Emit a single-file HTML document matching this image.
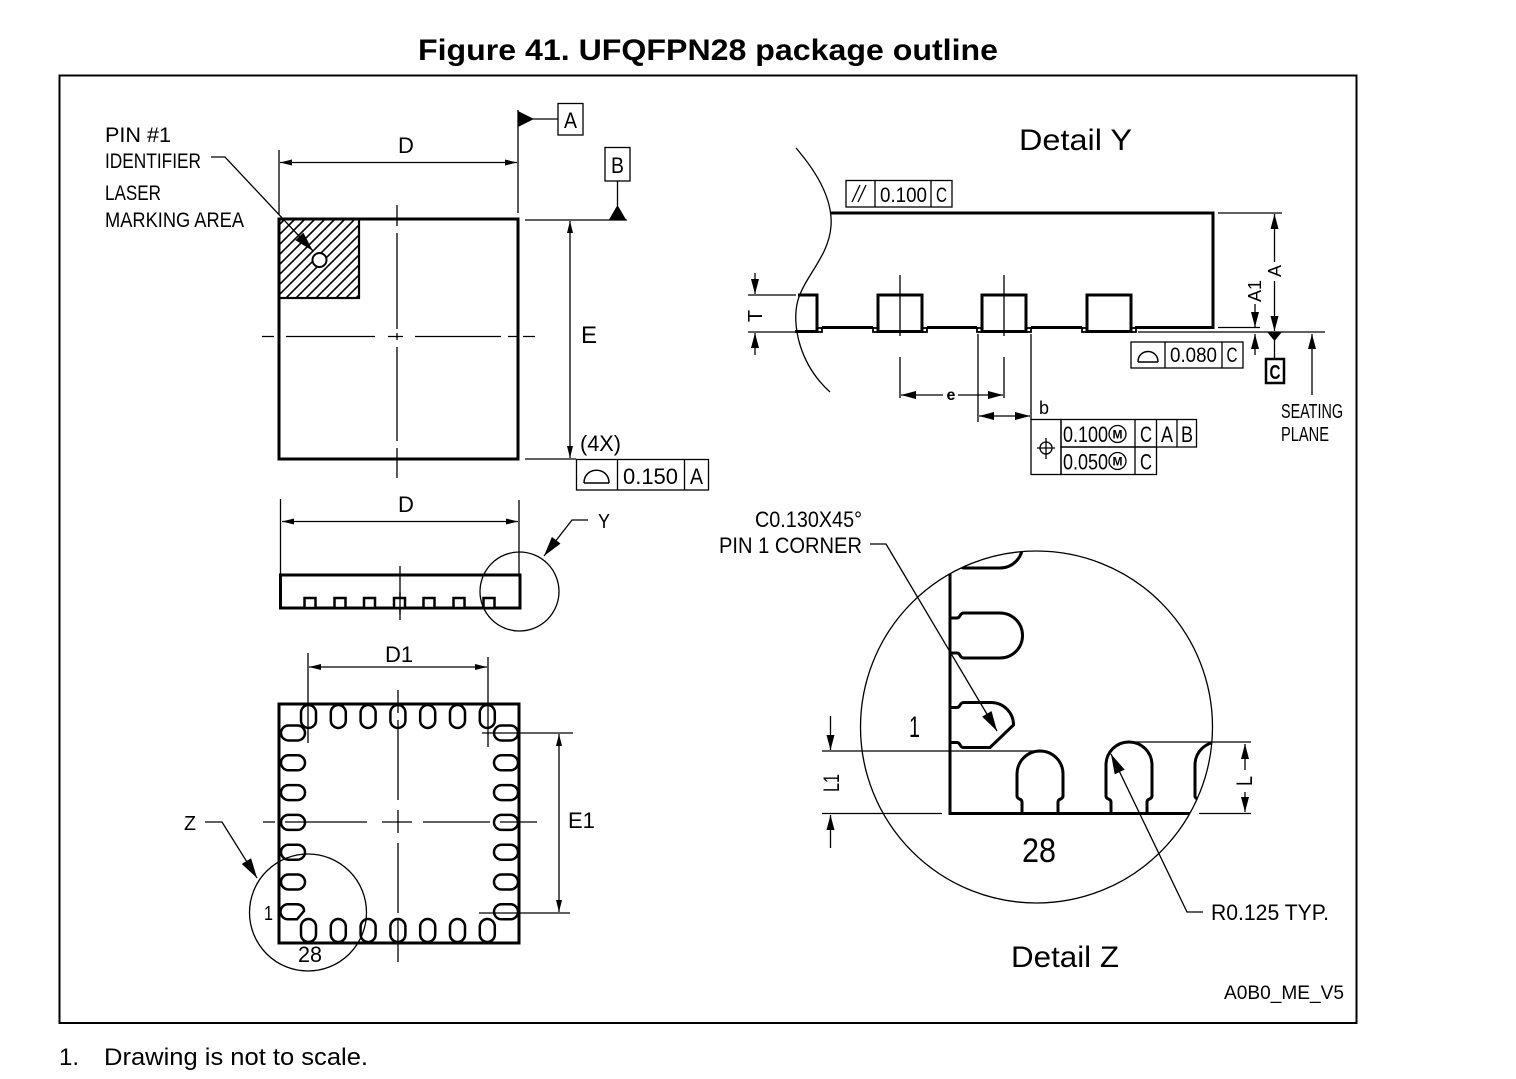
<!DOCTYPE html>
<html><head><meta charset="utf-8"><style>
html,body{margin:0;padding:0;background:#fff;}
svg{display:block;}
text{font-family:"Liberation Sans",Arial,sans-serif;fill:#000;}
</style></head><body>
<svg width="1516" height="1079" viewBox="0 0 1516 1079" xmlns="http://www.w3.org/2000/svg">
<defs>
 <marker id="a" viewBox="0 0 12 6" refX="12" refY="3" markerWidth="12" markerHeight="6" markerUnits="userSpaceOnUse" orient="auto-start-reverse"><path d="M0,0L12,3L0,6z"/></marker>
 <marker id="b" viewBox="0 0 15 8" refX="15" refY="4" markerWidth="15" markerHeight="8" markerUnits="userSpaceOnUse" orient="auto-start-reverse"><path d="M0,0L15,4L0,8z"/></marker>
 <marker id="c" viewBox="0 0 20 11" refX="20" refY="5.5" markerWidth="20" markerHeight="11" markerUnits="userSpaceOnUse" orient="auto"><path d="M0,0L20,5.5L0,11z"/></marker>
 <clipPath id="cz"><circle cx="1036.5" cy="727" r="176"/></clipPath>
 <clipPath id="ch"><rect x="279" y="219" width="80" height="79"/></clipPath>
</defs>
<rect width="1516" height="1079" fill="#fff"/>

<!-- Title -->
<text x="418" y="60" font-size="30" font-weight="bold" textLength="580" lengthAdjust="spacingAndGlyphs">Figure 41. UFQFPN28 package outline</text>
<rect x="59.5" y="75.5" width="1297" height="947.5" fill="none" stroke="#000" stroke-width="2"/>

<!-- Footer -->
<text x="59" y="1065" font-size="24">1.</text>
<text x="104" y="1065" font-size="24" textLength="264" lengthAdjust="spacingAndGlyphs">Drawing is not to scale.</text>

<g fill="none" stroke="#000">
<!-- ================= TOP VIEW ================= -->
<rect x="279" y="219" width="239" height="240" stroke-width="3"/>
<path clip-path="url(#ch)" stroke-width="1.6" d="M205,299L285,219M215,299L295,219M225,299L305,219M235,299L315,219M245,299L325,219M255,299L335,219M265,299L345,219M275,299L355,219M285,299L365,219M295,299L375,219M305,299L385,219M315,299L395,219M325,299L405,219M335,299L415,219M345,299L425,219M355,299L435,219"/>
<rect x="279" y="219" width="80" height="79" stroke-width="2.2"/>
<circle cx="319.5" cy="260" r="7" fill="#fff" stroke-width="2"/>
<polyline points="211,157 225,157 313,251" stroke-width="1.3" marker-end="url(#c)"/>
<g stroke-width="1.3">
 <path d="M397,205V226M397,233V329M397,333V340M397,347V441M397,448V478"/>
 <path d="M262,336.5H274M286,336.5H375M388,336.5H403M415,336.5H501M508,336.5H517M523,336.5H535"/>
 <!-- D dim -->
 <path d="M279,150V214"/>
 <path d="M518,110V213"/>
 <line x1="280" y1="162.5" x2="517" y2="162.5" marker-start="url(#a)" marker-end="url(#a)"/>
 <!-- datum A -->
 <path d="M533,119H558"/>
 <rect x="558" y="103.5" width="25" height="31.5"/>
 <!-- datum B -->
 <rect x="605" y="147.5" width="25" height="33.5"/>
 <path d="M617.5,181V206"/>
 <path d="M525,220H627"/>
 <!-- E dim -->
 <line x1="570" y1="221" x2="570" y2="458" marker-start="url(#a)" marker-end="url(#a)"/>
 <path d="M525,459H576"/>
 <!-- flatness frame -->
 <rect x="576.5" y="459.5" width="132" height="30.5"/>
 <path d="M617.5,459.5V490M684.5,459.5V490"/>
 <path d="M584,483H609M584,483C584,466 609,466 609,483" stroke-width="1.5"/>
</g>
</g>
<polygon points="518,111 518,127 534,119"/>
<polygon points="608.5,220.5 626.5,220.5 617.5,205"/>
<text x="105" y="142" font-size="21" textLength="66" lengthAdjust="spacingAndGlyphs">PIN  #1</text>
<text x="105" y="168" font-size="21" textLength="96" lengthAdjust="spacingAndGlyphs">IDENTIFIER</text>
<text x="105" y="200" font-size="21" textLength="56" lengthAdjust="spacingAndGlyphs">LASER</text>
<text x="105" y="227" font-size="21" textLength="139" lengthAdjust="spacingAndGlyphs">MARKING  AREA</text>
<text x="398" y="153" font-size="22">D</text>
<text x="570.5" y="128" font-size="22" text-anchor="middle" textLength="13" lengthAdjust="spacingAndGlyphs">A</text>
<text x="617.5" y="173" font-size="22" text-anchor="middle" textLength="13" lengthAdjust="spacingAndGlyphs">B</text>
<text x="581" y="343" font-size="24">E</text>
<text x="580" y="451" font-size="22" textLength="41" lengthAdjust="spacingAndGlyphs">(4X)</text>
<text x="623" y="484" font-size="22" textLength="55" lengthAdjust="spacingAndGlyphs">0.150</text>
<text x="696.5" y="484" font-size="22" text-anchor="middle" textLength="13" lengthAdjust="spacingAndGlyphs">A</text>

<!-- ================= SIDE VIEW ================= -->
<g fill="none" stroke="#000">
 <g stroke-width="1.3">
  <path d="M280.5,499V575M519,500V575"/>
  <line x1="282" y1="521.5" x2="518" y2="521.5" marker-start="url(#a)" marker-end="url(#a)"/>
  <path d="M400,566V620"/>
  <circle cx="519.5" cy="591.5" r="39.5"/>
  <polyline points="588,520 572,520 544,556" marker-end="url(#c)"/>
 </g>
 <rect x="280.5" y="575" width="239.5" height="33" stroke-width="3"/>
 <g stroke-width="2.5" fill="#fff">
  <rect x="304.5" y="598" width="11" height="10"/>
  <rect x="334.5" y="598" width="11" height="10"/>
  <rect x="364" y="598" width="11" height="10"/>
  <rect x="394" y="598" width="11" height="10"/>
  <rect x="423.5" y="598" width="11" height="10"/>
  <rect x="453.5" y="598" width="11" height="10"/>
  <rect x="483.5" y="598" width="11" height="10"/>
 </g>
 <path d="M400,592V614" stroke-width="1.3"/>
</g>
<text x="398" y="512" font-size="22">D</text>
<text x="598" y="528" font-size="20" textLength="12" lengthAdjust="spacingAndGlyphs">Y</text>

<!-- ================= BOTTOM VIEW ================= -->
<g fill="none" stroke="#000">
 <g stroke-width="1.3">
  <path d="M308,653V743M488,657V747"/>
  <line x1="309" y1="667" x2="487" y2="667" marker-start="url(#a)" marker-end="url(#a)"/>
  <path d="M482,733H573M479,913H570"/>
  <line x1="559" y1="734" x2="559" y2="912" marker-start="url(#a)" marker-end="url(#a)"/>
  <path d="M398,690V713M398,720V800M398,810V833M398,843V913M398,920V962"/>
  <path d="M263,822H275M285,822H367M382,822H412M423,822H490M500,822H537"/>
  <circle cx="308" cy="912.5" r="58.5"/>
  <polyline points="205,822 222,822 257,878" marker-end="url(#c)"/>
 </g>
 <rect x="279" y="704" width="240" height="239" stroke-width="3"/>
 <g stroke-width="2.5">
  <rect x="301" y="705" width="15" height="23" rx="7.5"/>
  <rect x="330.8" y="705" width="15" height="23" rx="7.5"/>
  <rect x="360.6" y="705" width="15" height="23" rx="7.5"/>
  <rect x="390.4" y="705" width="15" height="23" rx="7.5"/>
  <rect x="420.2" y="705" width="15" height="23" rx="7.5"/>
  <rect x="450" y="705" width="15" height="23" rx="7.5"/>
  <rect x="479.8" y="705" width="15" height="23" rx="7.5"/>

  <rect x="301" y="919" width="15" height="23" rx="7.5"/>
  <rect x="330.8" y="919" width="15" height="23" rx="7.5"/>
  <rect x="360.6" y="919" width="15" height="23" rx="7.5"/>
  <rect x="390.4" y="919" width="15" height="23" rx="7.5"/>
  <rect x="420.2" y="919" width="15" height="23" rx="7.5"/>
  <rect x="450" y="919" width="15" height="23" rx="7.5"/>
  <rect x="479.8" y="919" width="15" height="23" rx="7.5"/>

  <rect x="281" y="725.5" width="24" height="15" rx="7.5"/>
  <rect x="281" y="755.3" width="24" height="15" rx="7.5"/>
  <rect x="281" y="785.1" width="24" height="15" rx="7.5"/>
  <rect x="281" y="814.9" width="24" height="15" rx="7.5"/>
  <rect x="281" y="844.7" width="24" height="15" rx="7.5"/>
  <rect x="281" y="874.5" width="24" height="15" rx="7.5"/>
  <path d="M288,904.3H297Q304,905 304,911L297,919.3H288A7.5,7.5 0 0 1 288,904.3Z"/>

  <rect x="494" y="725.5" width="24" height="15" rx="7.5"/>
  <rect x="494" y="755.3" width="24" height="15" rx="7.5"/>
  <rect x="494" y="785.1" width="24" height="15" rx="7.5"/>
  <rect x="494" y="814.9" width="24" height="15" rx="7.5"/>
  <rect x="494" y="844.7" width="24" height="15" rx="7.5"/>
  <rect x="494" y="874.5" width="24" height="15" rx="7.5"/>
  <rect x="494" y="904.3" width="24" height="15" rx="7.5"/>
 </g>
</g>
<text x="385" y="662" font-size="22">D1</text>
<text x="568" y="828" font-size="22">E1</text>
<text x="184" y="830" font-size="20" textLength="12" lengthAdjust="spacingAndGlyphs">Z</text>
<text x="264" y="920" font-size="20" textLength="9" lengthAdjust="spacingAndGlyphs">1</text>
<text x="298" y="962" font-size="22" textLength="24" lengthAdjust="spacingAndGlyphs">28</text>

<!-- ================= DETAIL Y ================= -->
<text x="1019" y="150" font-size="30" textLength="113" lengthAdjust="spacingAndGlyphs">Detail Y</text>
<g fill="none" stroke="#000">
 <path d="M831,213H1213V327.5H1135" stroke-width="3"/>
 <path d="M822,327.5H873M927,327.5H977M1031,327.5H1082" stroke-width="3"/>
 <g stroke-width="3">
  <path d="M798,295H817V331.5H795"/>
  <rect x="878" y="295" width="44" height="36.5"/>
  <rect x="982" y="295" width="44" height="36.5"/>
  <rect x="1087" y="295" width="44" height="36.5"/>
 </g>
 <g stroke-width="1.8">
  <rect x="817" y="328" width="5" height="4"/>
  <rect x="873" y="328" width="5" height="4"/><rect x="922" y="328" width="5" height="4"/>
  <rect x="977" y="328" width="5" height="4"/><rect x="1026" y="328" width="5" height="4"/>
  <rect x="1082" y="328" width="5" height="4"/><rect x="1131" y="328" width="5" height="4"/>
 </g>
 <g stroke-width="1.3">
  <path d="M796,148C815,170 833,198 831,226C829,256 805,276 798,300C791,325 800,365 830,392"/>
  <path d="M900,275V336M900,357V398M1004,275V336M1004,357V398"/>
  <!-- T -->
  <path d="M748,295H796M748,332H796"/>
  <line x1="755" y1="273" x2="755" y2="294" marker-end="url(#b)"/>
  <line x1="755" y1="355" x2="755" y2="333" marker-end="url(#b)"/>
  <!-- e -->
  <line x1="943" y1="395" x2="901" y2="395" marker-end="url(#b)"/>
  <line x1="958" y1="395" x2="1003" y2="395" marker-end="url(#b)"/>
  <!-- b -->
  <path d="M978,334V422M1031,334V420"/>
  <line x1="979" y1="416" x2="1030" y2="416" marker-start="url(#b)" marker-end="url(#b)"/>
  <!-- position frame -->
  <rect x="1031" y="419.5" width="30" height="55"/>
  <rect x="1061" y="419.5" width="135.5" height="27.5"/>
  <rect x="1061" y="447" width="95.5" height="27.5"/>
  <path d="M1135,419.5V474.5M1156.5,419.5V447M1177,419.5V447"/>
  <circle cx="1046" cy="448" r="6"/>
  <path d="M1046,438V459M1037,448H1055"/>
  <circle cx="1117.5" cy="434" r="8.5"/>
  <circle cx="1117.5" cy="461" r="8.5"/>
  <!-- parallel frame -->
  <rect x="846" y="180.5" width="106" height="26.5"/>
  <path d="M875,180.5V207M931,180.5V207"/>
  <path d="M852,202L860,185M858,202L866,185"/>
  <!-- A / A1 -->
  <path d="M1218,213H1282M1218,327.5H1260"/>
  <line x1="1274.5" y1="262" x2="1274.5" y2="214" marker-end="url(#b)"/>
  <line x1="1274.5" y1="281" x2="1274.5" y2="331" marker-end="url(#b)"/>
  <line x1="1255" y1="304" x2="1255" y2="327" marker-end="url(#b)"/>
  <line x1="1255" y1="355" x2="1255" y2="334" marker-end="url(#b)"/>
  <path d="M1138,332H1325"/>
  <path d="M1274.5,340V359"/>
  <line x1="1312" y1="395" x2="1312" y2="334" marker-end="url(#b)"/>
  <!-- flatness 0.080 -->
  <rect x="1131" y="342" width="112" height="26"/>
  <path d="M1165,342V368M1222,342V368"/>
  <path d="M1138,362H1158M1138,362C1138,348 1158,348 1158,362" stroke-width="1.5"/>
 </g>
 <rect x="1266" y="359" width="18" height="24" stroke-width="2.5"/>
</g>
<polygon points="1267.5,332.5 1281.5,332.5 1274.5,341"/>
<text transform="translate(762,316) rotate(-90)" font-size="20" text-anchor="middle">T</text>
<text x="951" y="400" font-size="16" font-weight="bold" text-anchor="middle">e</text>
<text x="1039" y="414" font-size="18">b</text>
<text x="1063" y="442" font-size="22" textLength="45" lengthAdjust="spacingAndGlyphs">0.100</text>
<text x="1117.5" y="438.5" font-size="12" text-anchor="middle" font-weight="bold">M</text>
<text x="1146" y="442" font-size="22" text-anchor="middle" textLength="12" lengthAdjust="spacingAndGlyphs">C</text>
<text x="1167" y="442" font-size="22" text-anchor="middle" textLength="12" lengthAdjust="spacingAndGlyphs">A</text>
<text x="1187" y="442" font-size="22" text-anchor="middle" textLength="12" lengthAdjust="spacingAndGlyphs">B</text>
<text x="1063" y="469.5" font-size="22" textLength="45" lengthAdjust="spacingAndGlyphs">0.050</text>
<text x="1117.5" y="465.5" font-size="12" text-anchor="middle" font-weight="bold">M</text>
<text x="1146" y="469.5" font-size="22" text-anchor="middle" textLength="12" lengthAdjust="spacingAndGlyphs">C</text>
<text x="880" y="202" font-size="21" textLength="47" lengthAdjust="spacingAndGlyphs">0.100</text>
<text x="941.5" y="202" font-size="21" text-anchor="middle" textLength="11" lengthAdjust="spacingAndGlyphs">C</text>
<text transform="translate(1281,271) rotate(-90)" font-size="18" text-anchor="middle">A</text>
<text transform="translate(1261,291) rotate(-90)" font-size="18" text-anchor="middle">A1</text>
<text x="1170" y="362" font-size="21" textLength="47" lengthAdjust="spacingAndGlyphs">0.080</text>
<text x="1232" y="362" font-size="21" text-anchor="middle" textLength="11" lengthAdjust="spacingAndGlyphs">C</text>
<text x="1275" y="379" font-size="20" font-weight="bold" text-anchor="middle" textLength="11" lengthAdjust="spacingAndGlyphs">C</text>
<text x="1281" y="418" font-size="20" textLength="62" lengthAdjust="spacingAndGlyphs">SEATING</text>
<text x="1281" y="441" font-size="20" textLength="48" lengthAdjust="spacingAndGlyphs">PLANE</text>

<!-- ================= DETAIL Z ================= -->
<g fill="none" stroke="#000">
 <g clip-path="url(#cz)" stroke-width="3">
  <path d="M950,540V813.5H1250"/>
  <path d="M950,528H957C961,528 959,523 964,523H1000A22.5,22.5 0 0 1 1000,568H964C959,568 961,563 957,563H950"/>
  <path d="M950,618H957C961,618 959,613 964,613H1000A22.5,22.5 0 0 1 1000,658H964C959,658 961,653 957,653H950"/>
  <path d="M950,707.5H957C961,707.5 959,702.5 964,702.5H991A22.5,22.5 0 0 1 1013.5,725L990,747.5H964C959,747.5 961,742.5 957,742.5H950"/>
  <path d="M1022,813.5V802C1022,798 1017,800 1017,796V774A23,23 0 0 1 1063,774V796C1063,800 1058,798 1058,802V813.5"/>
  <path d="M1111,813.5V802C1111,798 1106,800 1106,796V765A23,23 0 0 1 1152,765V796C1152,800 1147,798 1147,802V813.5"/>
  <path d="M1200,813.5V802C1200,798 1195,800 1195,796V765A23,23 0 0 1 1241,765V796C1241,800 1236,798 1236,802V813.5"/>
 </g>
 <g stroke-width="1.3">
  <circle cx="1036.5" cy="727" r="176"/>
  <path d="M822,751H1034M822,813.5H942"/>
  <line x1="830.5" y1="716" x2="830.5" y2="750" marker-end="url(#b)"/>
  <line x1="830.5" y1="848" x2="830.5" y2="815" marker-end="url(#b)"/>
  <path d="M1130,742H1251M1199,813.5H1251"/>
  <line x1="1245" y1="770" x2="1245" y2="744" marker-end="url(#b)"/>
  <line x1="1245" y1="792" x2="1245" y2="812" marker-end="url(#b)"/>
  <polyline points="870,544 886,544 997,731" marker-end="url(#c)"/>
  <polyline points="1203,912 1187,912 1111,754" marker-end="url(#c)"/>
 </g>
</g>
<text x="755" y="527" font-size="22" textLength="107" lengthAdjust="spacingAndGlyphs">C0.130X45°</text>
<text x="719" y="553" font-size="22" textLength="143" lengthAdjust="spacingAndGlyphs">PIN  1  CORNER</text>
<text x="909" y="737" font-size="30" textLength="11" lengthAdjust="spacingAndGlyphs">1</text>
<text transform="translate(839,783) rotate(-90)" font-size="22" text-anchor="middle" textLength="18" lengthAdjust="spacingAndGlyphs">L1</text>
<text transform="translate(1252,781) rotate(-90)" font-size="22" text-anchor="middle" textLength="10" lengthAdjust="spacingAndGlyphs">L</text>
<text x="1022" y="862" font-size="34" textLength="34" lengthAdjust="spacingAndGlyphs">28</text>
<text x="1211" y="920" font-size="22" textLength="118" lengthAdjust="spacingAndGlyphs">R0.125  TYP.</text>
<text x="1011" y="967" font-size="30" textLength="108" lengthAdjust="spacingAndGlyphs">Detail Z</text>
<text x="1224" y="999" font-size="19" textLength="120" lengthAdjust="spacingAndGlyphs">A0B0_ME_V5</text>
</svg>
</body></html>
